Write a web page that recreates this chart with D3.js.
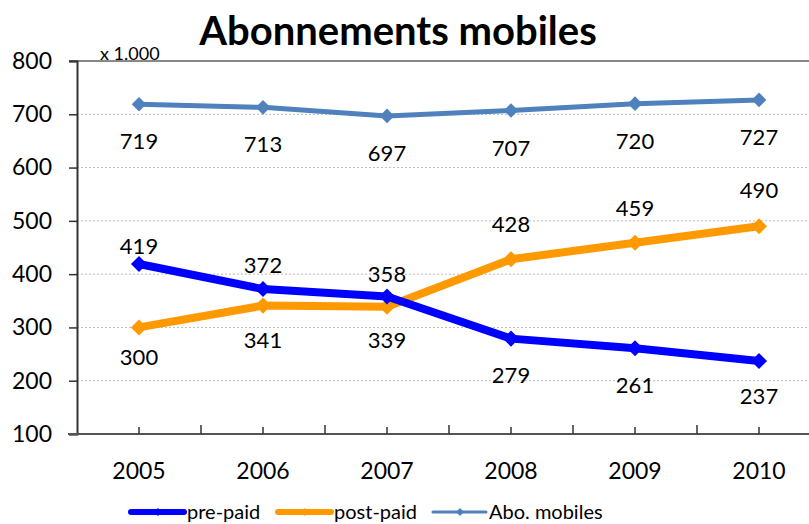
<!DOCTYPE html>
<html>
<head>
<meta charset="utf-8">
<script src="https://cdn.jsdelivr.net/npm/d3@7"></script>
<style>
  body { margin: 0; background: #fff; }
  text { font-family: Lato, "Open Sans", sans-serif; }
</style>
</head>
<body>
<div id="chart"></div>
<script>
// data
var years = ["2005", "2006", "2007", "2008", "2009", "2010"];
var prePaid = [419, 372, 358, 279, 261, 237];
var postPaid = [300, 341, 339, 428, 459, 490];
var aboMobiles = [719, 713, 697, 707, 720, 727];
var yTicks = [100, 200, 300, 400, 500, 600, 700, 800];

// label baseline offsets from the point (px), layout only
var preDy = [-10, -16, -15, 44, 45, 43];
var postDy = [38, 42, 41, -27, -27, -28];
var aboDy = [45, 45, 45, 45, 45, 45];

var W = 809, H = 524;
var margin = {left: 77, top: 61};
var plotW = 744, plotH = 373;

var svg = d3.select("#chart").append("svg")
    .attr("width", W).attr("height", H);

var x = d3.scaleBand().domain(years).range([margin.left, margin.left + plotW]);
var y = d3.scaleLinear().domain([100, 800]).range([margin.top + plotH, margin.top]);
var cx = function(d) { return x(d) + x.bandwidth() / 2; };

// gridlines
svg.append("g").selectAll("line").data(yTicks.filter(function(d) { return d > 100 && d < 800; }))
  .enter().append("line")
    .attr("x1", margin.left).attr("x2", W)
    .attr("y1", function(d) { return y(d); }).attr("y2", function(d) { return y(d); })
    .attr("stroke", "#bbb").attr("stroke-dasharray", "2,2").attr("stroke-width", 1);

// top border
svg.append("line")
  .attr("x1", margin.left - 8).attr("x2", W)
  .attr("y1", y(800)).attr("y2", y(800))
  .attr("stroke", "#888").attr("stroke-width", 2);

// y axis
var yAxis = svg.append("g")
  .attr("transform", "translate(" + margin.left + ",0)")
  .call(d3.axisLeft(y).tickValues(yTicks).tickSize(8).tickPadding(17));
yAxis.select(".domain").attr("stroke", "#333").attr("stroke-width", 2);
yAxis.selectAll(".tick line").attr("stroke", "#333").attr("stroke-width", 1.5);
yAxis.selectAll("text").style("font-size", "23px").attr("fill", "#000")
  .style("font-family", "Lato, 'Open Sans', sans-serif");

// x axis
var xBase = y(100);
svg.append("line")
  .attr("x1", margin.left - 9).attr("x2", W)
  .attr("y1", xBase).attr("y2", xBase)
  .attr("stroke", "#555").attr("stroke-width", 2);
// ticks at boundaries and centres, pointing up
var bounds = years.map(function(d) { return x(d); });
svg.append("g").selectAll("line").data(bounds.slice(1))
  .enter().append("line")
    .attr("x1", function(d) { return d; }).attr("x2", function(d) { return d; })
    .attr("y1", xBase).attr("y2", xBase - 9)
    .attr("stroke", "#333").attr("stroke-width", 1.5);
svg.append("g").selectAll("line").data(years)
  .enter().append("line")
    .attr("x1", cx).attr("x2", cx)
    .attr("y1", xBase).attr("y2", xBase - 7)
    .attr("stroke", "#333").attr("stroke-width", 1.5);
svg.append("g").selectAll("text").data(years)
  .enter().append("text")
    .attr("x", cx).attr("y", 479)
    .attr("text-anchor", "middle")
    .style("font-size", "23px")
    .text(function(d) { return d; });

// series
var series = [
  {name: "pre-paid", values: prePaid, dy: preDy, color: "#0000ff", width: 8, size: 165},
  {name: "post-paid", values: postPaid, dy: postDy, color: "#ff9900", width: 8, size: 165},
  {name: "Abo. mobiles", values: aboMobiles, dy: aboDy, color: "#4f81bd", width: 5, size: 135}
];

var line = d3.line()
  .x(function(d, i) { return cx(years[i]); })
  .y(function(d) { return y(d); });

series.slice().reverse().forEach(function(s) {
  svg.append("path")
    .datum(s.values)
    .attr("d", line)
    .attr("fill", "none")
    .attr("stroke", s.color)
    .attr("stroke-width", s.width)
    .attr("stroke-linejoin", "round");
  svg.append("g").selectAll("path").data(s.values)
    .enter().append("path")
      .attr("d", d3.symbol().type(d3.symbolDiamond2).size(s.size))
      .attr("transform", function(d, i) { return "translate(" + cx(years[i]) + "," + y(d) + ")"; })
      .attr("fill", s.color);
});

series.forEach(function(s) {
  svg.append("g").selectAll("text").data(s.values)
    .enter().append("text")
      .attr("x", function(d, i) { return cx(years[i]); })
      .attr("y", function(d, i) { return y(d) + s.dy[i]; })
      .attr("text-anchor", "middle")
      .style("font-size", "22px")
      .text(function(d) { return d; });
});

// title and unit
svg.append("text")
  .attr("x", 398).attr("y", 45)
  .attr("text-anchor", "middle")
  .style("font-size", "40px").style("font-weight", "bold")
  .text("Abonnements mobiles");
svg.append("text")
  .attr("x", 100).attr("y", 60)
  .style("font-size", "18px")
  .text("x 1.000");

// legend
var legX = [128, 275, 430];
series.forEach(function(s, i) {
  var g = svg.append("g").attr("transform", "translate(" + legX[i] + ",512)");
  g.append("line").attr("x1", 3).attr("x2", 56).attr("y1", 0).attr("y2", 0)
    .attr("stroke", s.color).attr("stroke-width", s.width - 2).attr("stroke-linecap", "round");
  g.append("path").attr("d", d3.symbol().type(d3.symbolDiamond2).size(40))
    .attr("transform", "translate(30,0)").attr("fill", s.color);
  g.append("text").attr("x", 59).attr("y", 7)
    .style("font-size", "20px").text(s.name);
});
</script>
</body>
</html>
